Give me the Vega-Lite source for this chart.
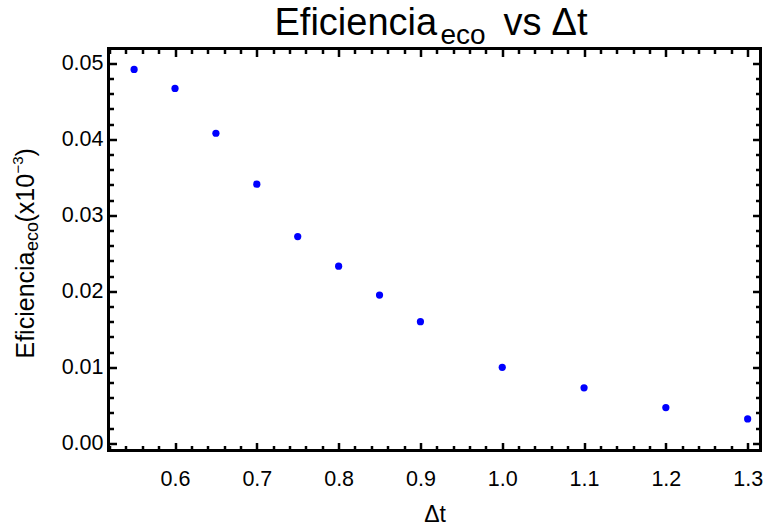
{
  "$schema": "https://vega.github.io/schema/vega-lite/v6.json",
  "width": 652,
  "height": 402,
  "autosize": "none",
  "padding": {"left": 108.5, "top": 48.5, "right": 6.5, "bottom": 78.5},
  "background": "white",
  "config": {
    "view": {"stroke": "black", "strokeWidth": 3},
    "axis": {
      "grid": false, "domain": false,
      "labelFont": "Liberation Sans", "titleFont": "Liberation Sans",
      "labelColor": "black", "titleColor": "black", "titleFontWeight": "normal",
      "tickColor": "black", "labelOverlap": false, "labelFlush": false
    }
  },
  "data": {
    "values": [
      {"dt": 0.55, "eff": 0.0492},
      {"dt": 0.60, "eff": 0.0467},
      {"dt": 0.65, "eff": 0.0408},
      {"dt": 0.70, "eff": 0.0341},
      {"dt": 0.75, "eff": 0.0272},
      {"dt": 0.80, "eff": 0.0233},
      {"dt": 0.85, "eff": 0.0195},
      {"dt": 0.90, "eff": 0.0160},
      {"dt": 1.00, "eff": 0.0100},
      {"dt": 1.10, "eff": 0.0073},
      {"dt": 1.20, "eff": 0.0047},
      {"dt": 1.30, "eff": 0.0032}
    ]
  },
  "resolve": {"axis": {"x": "independent", "y": "independent"}},
  "layer": [
    {
      "mark": {"type": "point", "filled": true, "color": "#0000ff", "opacity": 1, "size": 52},
      "encoding": {
        "x": {"field": "dt", "type": "quantitative",
          "scale": {"domain": [0.5187, 1.3157], "nice": false, "zero": false},
          "axis": {"orient": "bottom", "ticks": false, "values": [0.6, 0.7, 0.8, 0.9, 1.0, 1.1, 1.2, 1.3], "format": ".1f",
            "labelFontSize": 21.5, "labelPadding": 18,
            "title": "Δt", "titleFontSize": 23, "titleX": 326, "titleY": 71, "titleAlign": "center", "titleBaseline": "alphabetic"}},
        "y": {"field": "eff", "type": "quantitative",
          "scale": {"domain": [-0.00095, 0.05195], "nice": false, "zero": false},
          "axis": {"orient": "left", "ticks": false, "values": [0, 0.01, 0.02, 0.03, 0.04, 0.05], "format": ".2f",
            "labelFontSize": 21.5, "labelPadding": 5.5,
            "title": "Eficiencia", "titleFontSize": 25, "titleAngle": -90, "titleX": -75.5, "titleY": 309.5, "titleAlign": "left", "titleBaseline": "alphabetic"}}
      }
    },
    {
      "mark": {"type": "point", "opacity": 0},
      "encoding": {
        "x": {"field": "dt", "type": "quantitative",
          "scale": {"domain": [0.5187, 1.3157], "nice": false, "zero": false},
          "axis": {"orient": "bottom", "offset": -8, "labels": false, "ticks": true, "tickSize": 8, "tickWidth": 2.5, "values": [0.6, 0.7, 0.8, 0.9, 1.0, 1.1, 1.2, 1.3], "title": null}},
        "y": {"field": "eff", "type": "quantitative",
          "scale": {"domain": [-0.00095, 0.05195], "nice": false, "zero": false},
          "axis": {"orient": "left", "offset": -8, "labels": false, "ticks": true, "tickSize": 8, "tickWidth": 2.5, "values": [0, 0.01, 0.02, 0.03, 0.04, 0.05],
            "title": "eco", "titleFontSize": 18, "titleAngle": -90, "titleX": -79, "titleY": 202, "titleAlign": "left", "titleBaseline": "alphabetic"}}
      }
    },
    {
      "mark": {"type": "point", "opacity": 0},
      "encoding": {
        "x": {"field": "dt", "type": "quantitative",
          "scale": {"domain": [0.5187, 1.3157], "nice": false, "zero": false},
          "axis": {"orient": "bottom", "offset": -5, "labels": false, "ticks": true, "tickSize": 5, "tickWidth": 2.5,
            "values": [0.52,0.54,0.56,0.58,0.62,0.64,0.66,0.68,0.72,0.74,0.76,0.78,0.82,0.84,0.86,0.88,0.92,0.94,0.96,0.98,1.02,1.04,1.06,1.08,1.12,1.14,1.16,1.18,1.22,1.24,1.26,1.28], "title": null}},
        "y": {"field": "eff", "type": "quantitative",
          "scale": {"domain": [-0.00095, 0.05195], "nice": false, "zero": false},
          "axis": {"orient": "left", "offset": -5, "labels": false, "ticks": true, "tickSize": 5, "tickWidth": 2.5,
            "values": [0.002,0.004,0.006,0.008,0.012,0.014,0.016,0.018,0.022,0.024,0.026,0.028,0.032,0.034,0.036,0.038,0.042,0.044,0.046,0.048],
            "title": "(x10", "titleFontSize": 25, "titleAngle": -90, "titleX": -80.5, "titleY": 173.5, "titleAlign": "left", "titleBaseline": "alphabetic"}}
      }
    },
    {
      "mark": {"type": "point", "opacity": 0},
      "encoding": {
        "x": {"field": "dt", "type": "quantitative",
          "scale": {"domain": [0.5187, 1.3157], "nice": false, "zero": false},
          "axis": {"orient": "top", "offset": -8, "labels": false, "ticks": true, "tickSize": 8, "tickWidth": 2.5, "values": [0.6, 0.7, 0.8, 0.9, 1.0, 1.1, 1.2, 1.3],
            "title": "Eficiencia", "titleFontSize": 38, "titleX": 165.5, "titleY": -22.5, "titleAlign": "left", "titleBaseline": "alphabetic"}},
        "y": {"field": "eff", "type": "quantitative",
          "scale": {"domain": [-0.00095, 0.05195], "nice": false, "zero": false},
          "axis": {"orient": "right", "offset": -8, "labels": false, "ticks": true, "tickSize": 8, "tickWidth": 2.5, "values": [0, 0.01, 0.02, 0.03, 0.04, 0.05], "title": null}}
      }
    },
    {
      "mark": {"type": "point", "opacity": 0},
      "encoding": {
        "x": {"field": "dt", "type": "quantitative",
          "scale": {"domain": [0.5187, 1.3157], "nice": false, "zero": false},
          "axis": {"orient": "top", "offset": -5, "labels": false, "ticks": true, "tickSize": 5, "tickWidth": 2.5,
            "values": [0.52,0.54,0.56,0.58,0.62,0.64,0.66,0.68,0.72,0.74,0.76,0.78,0.82,0.84,0.86,0.88,0.92,0.94,0.96,0.98,1.02,1.04,1.06,1.08,1.12,1.14,1.16,1.18,1.22,1.24,1.26,1.28],
            "title": "eco", "titleFontSize": 28, "titleX": 331.5, "titleY": -10.5, "titleAlign": "left", "titleBaseline": "alphabetic"}},
        "y": {"field": "eff", "type": "quantitative",
          "scale": {"domain": [-0.00095, 0.05195], "nice": false, "zero": false},
          "axis": {"orient": "right", "offset": -5, "labels": false, "ticks": true, "tickSize": 5, "tickWidth": 2.5,
            "values": [0.002,0.004,0.006,0.008,0.012,0.014,0.016,0.018,0.022,0.024,0.026,0.028,0.032,0.034,0.036,0.038,0.042,0.044,0.046,0.048], "title": null}}
      }
    },
    {
      "mark": {"type": "point", "opacity": 0},
      "encoding": {
        "x": {"field": "dt", "type": "quantitative",
          "scale": {"domain": [0.5187, 1.3157], "nice": false, "zero": false},
          "axis": {"orient": "top", "labels": false, "ticks": false,
            "title": "vs", "titleFontSize": 38, "titleX": 394.5, "titleY": -14.5, "titleAlign": "left", "titleBaseline": "alphabetic"}},
        "y": {"field": "eff", "type": "quantitative",
          "scale": {"domain": [-0.00095, 0.05195], "nice": false, "zero": false},
          "axis": {"orient": "left", "labels": false, "ticks": false,
            "title": "−3", "titleFontSize": 15, "titleAngle": -90, "titleX": -86.5, "titleY": 124.5, "titleAlign": "left", "titleBaseline": "alphabetic"}}
      }
    },
    {
      "mark": {"type": "point", "opacity": 0},
      "encoding": {
        "x": {"field": "dt", "type": "quantitative",
          "scale": {"domain": [0.5187, 1.3157], "nice": false, "zero": false},
          "axis": {"orient": "top", "labels": false, "ticks": false,
            "title": "Δt", "titleFontSize": 38, "titleX": 442.5, "titleY": -14.5, "titleAlign": "left", "titleBaseline": "alphabetic"}},
        "y": {"field": "eff", "type": "quantitative",
          "scale": {"domain": [-0.00095, 0.05195], "nice": false, "zero": false},
          "axis": {"orient": "left", "labels": false, "ticks": false,
            "title": ")", "titleFontSize": 25, "titleAngle": -90, "titleX": -75.5, "titleY": 107.5, "titleAlign": "left", "titleBaseline": "alphabetic"}}
      }
    }
  ]
}
